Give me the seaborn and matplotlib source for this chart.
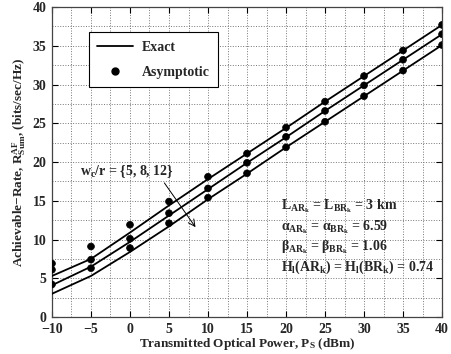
import numpy as np
import pandas as pd
import matplotlib
matplotlib.use('Agg')
import matplotlib.pyplot as plt
import seaborn as sns
from matplotlib.lines import Line2D
from matplotlib.ticker import MultipleLocator

# Data
power_dbm = [-10, -5, 0, 5, 10, 15, 20, 25, 30, 35, 40]
wc_ratio = [5, 8, 12]

exact_wc5 = [5.3, 7.5, 10.9, 14.4, 17.8, 21.1, 24.4, 27.8, 31.1, 34.4, 37.7]
exact_wc8 = [4.1, 6.5, 9.7, 13.1, 16.5, 19.9, 23.2, 26.6, 29.9, 33.2, 36.5]
exact_wc12 = [3.0, 5.3, 8.4, 11.7, 15.2, 18.5, 21.9, 25.2, 28.5, 31.8, 35.1]

asym_wc5 = [6.9, 9.1, 11.9, 14.9, 18.1, 21.1, 24.45, 27.8, 31.1, 34.4, 37.7]
asym_wc8 = [6.1, 7.4, 10.1, 13.4, 16.6, 19.9, 23.25, 26.6, 29.9, 33.2, 36.5]
asym_wc12 = [4.2, 6.3, 8.9, 12.1, 15.4, 18.55, 21.9, 25.2, 28.5, 31.8, 35.1]

rows = []
for wc, ex, asy in zip(wc_ratio, [exact_wc5, exact_wc8, exact_wc12],
                       [asym_wc5, asym_wc8, asym_wc12]):
    for p, e, a in zip(power_dbm, ex, asy):
        rows.append({'P': p, 'wc': wc, 'Exact': e, 'Asymptotic': a})
df = pd.DataFrame(rows)

# Style
sns.set_style('ticks')
plt.rcParams['font.family'] = ['Liberation Serif', 'DejaVu Serif']
plt.rcParams['font.weight'] = 'bold'
plt.rcParams['axes.labelweight'] = 'bold'
plt.rcParams['mathtext.fontset'] = 'custom'
plt.rcParams['mathtext.rm'] = 'Liberation Serif:bold'
plt.rcParams['mathtext.bf'] = 'Liberation Serif:bold'
plt.rcParams['mathtext.it'] = 'Liberation Serif:bold'

fig = plt.figure(figsize=(4.52, 3.54), dpi=100)
ax = fig.add_axes([0.115, 0.1045, 0.863, 0.8755])

black = {wc: 'black' for wc in wc_ratio}
sns.lineplot(data=df, x='P', y='Exact', hue='wc', palette=black,
             linewidth=1.3, legend=False, ax=ax, zorder=3)
sns.scatterplot(data=df, x='P', y='Asymptotic', hue='wc', palette=black,
                s=24, edgecolor='black', linewidth=0.5, legend=False, ax=ax, zorder=4)

ax.set_xlim(-10, 40)
ax.set_ylim(0, 40)
ax.xaxis.set_major_locator(MultipleLocator(5))
ax.yaxis.set_major_locator(MultipleLocator(5))
ax.xaxis.set_minor_locator(MultipleLocator(2.5))
ax.yaxis.set_minor_locator(MultipleLocator(2.5))
ax.grid(True, which='both', linestyle=':', color='#777777', linewidth=0.7)
ax.tick_params(which='major', direction='in', length=4, top=True, right=True,
               labelsize=10, color='black', width=0.8)
ax.tick_params(axis='x', which='major', pad=4.5)
ax.tick_params(axis='y', which='major', pad=4)
ax.tick_params(which='minor', length=0)
for lab in ax.get_xticklabels() + ax.get_yticklabels():
    lab.set_fontweight('bold')
for sp in ax.spines.values():
    sp.set_color('#444444')
    sp.set_linewidth(0.9)

ax.set_xlabel(r'Transmitted Optical Power, P$_\mathrm{S}$ (dBm)', fontsize=9.5, labelpad=0)
ax.set_ylabel(r'Achievable−Rate, R$_\mathrm{Sum}^\mathrm{AF}$, (bits/sec/Hz)', fontsize=9.5, labelpad=3)

handles = [Line2D([], [], color='black', lw=1.3),
           Line2D([], [], color='black', lw=0, marker='o', markersize=5)]
leg = ax.legend(handles, ['Exact', 'Asymptotic'], loc='upper left',
                bbox_to_anchor=(0.095, 0.918), borderaxespad=0, fancybox=False,
                framealpha=1, edgecolor='black', fontsize=10, handlelength=2.6,
                borderpad=0.6, labelspacing=0.85, handletextpad=0.6)
leg.get_frame().set_linewidth(0.8)

ax.text(-6.4, 18.3, r'w$_\mathrm{c}$/r = {5, 8, 12}', fontsize=10, fontweight='bold')
ax.annotate('', xy=(8.6, 11.3), xytext=(4.2, 17.6),
            arrowprops=dict(arrowstyle='->', lw=0.7, color='black', mutation_scale=12))

params = [r'L$_{\mathrm{AR}_\mathrm{k}}$ = L$_{\mathrm{BR}_\mathrm{k}}$ = 3 km',
          r'$\alpha_{\mathrm{AR}_\mathrm{k}}$ = $\alpha_{\mathrm{BR}_\mathrm{k}}$ = 6.59',
          r'$\beta_{\mathrm{AR}_\mathrm{k}}$ = $\beta_{\mathrm{BR}_\mathrm{k}}$ = 1.06',
          r'H$_\mathrm{l}$(AR$_\mathrm{k}$) = H$_\mathrm{l}$(BR$_\mathrm{k}$) = 0.74']
for i, t in enumerate(params):
    ax.text(19.3, 14.3 - i * 2.65, t, fontsize=10, fontweight='bold', va='center')

fig.savefig('out.png', dpi=100)
